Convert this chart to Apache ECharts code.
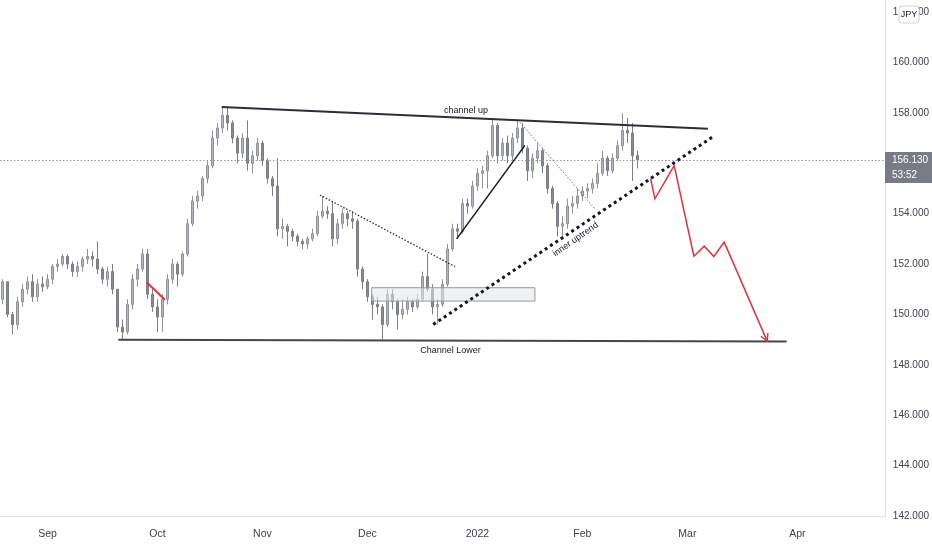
<!DOCTYPE html>
<html><head><meta charset="utf-8">
<script src="https://cdn.jsdelivr.net/npm/echarts@6/dist/echarts.min.js"></script>
<style>html,body{margin:0;padding:0;background:#fff}#c{width:932px;height:550px}</style>
</head><body><div id="c"></div>
<script>
// ---- price bars (one slot per bar) ----
const O=[150.6,151.3,150.0,149.6,150.5,151.0,151.3,150.7,151.2,151.1,151.4,151.9,152.0,152.3,152.0,151.7,151.9,152.2,152.3,152.2,
151.8,151.4,151.7,151.0,149.5,149.3,150.4,151.4,151.8,152.4,150.8,150.3,149.9,150.6,151.4,152.0,151.6,152.4,153.6,154.5,
154.7,155.4,155.9,157.0,157.4,157.9,157.6,157.0,156.4,157.0,156.0,156.3,156.8,156.1,155.4,155.1,153.4,153.5,153.3,153.1,
152.9,152.8,153.0,153.2,153.9,154.1,154.0,153.0,153.6,154.0,153.8,153.7,151.8,151.3,150.7,150.4,150.3,149.6,150.8,150.5,
150.0,150.2,150.5,150.3,150.6,151.5,151.0,150.3,150.4,151.2,152.6,153.4,153.3,154.4,154.3,155.1,155.6,155.7,156.3,157.5,
156.3,156.8,156.3,157.0,157.4,156.6,155.7,156.2,156.5,155.9,155.0,154.4,153.5,153.6,154.3,154.4,154.7,154.9,155.0,155.2,
155.6,156.2,155.7,156.2,156.7,157.3,157.2,156.3];
const C=[151.3,150.0,149.6,150.5,151.0,151.3,150.7,151.2,151.1,151.4,151.9,152.0,152.3,152.0,151.7,151.9,152.2,152.3,152.2,151.8,
151.4,151.7,151.0,149.5,149.3,150.4,151.4,151.8,152.4,150.8,150.3,149.9,150.6,151.4,152.0,151.6,152.4,153.6,154.5,154.7,
155.4,155.9,157.0,157.4,157.9,157.6,157.0,156.4,157.0,156.0,156.3,156.8,156.1,155.4,155.1,153.4,153.5,153.3,153.1,152.9,
152.8,153.0,153.2,153.9,154.1,154.0,153.0,153.6,154.0,153.8,153.7,151.8,151.3,150.7,150.4,150.3,149.6,150.8,150.5,150.0,
150.2,150.5,150.3,150.6,151.5,151.0,150.3,150.4,151.2,152.6,153.4,153.3,154.4,154.3,155.1,155.6,155.7,156.3,157.5,156.3,
156.8,156.3,157.0,157.4,156.6,155.7,156.2,156.5,155.9,155.0,154.4,153.5,153.6,154.3,154.4,154.7,154.9,155.0,155.2,155.6,
156.2,155.7,156.2,156.7,157.3,157.2,156.3,156.13];
const L=[150.4,149.9,149.2,149.4,150.3,150.8,150.5,150.5,150.9,151.0,151.2,151.7,151.9,151.8,151.5,151.5,151.7,152.0,151.9,151.6,
151.2,151.1,150.8,149.3,149.0,149.2,150.2,151.1,151.7,150.6,150.1,149.3,149.3,150.4,151.2,151.1,151.5,152.3,153.5,154.2,
154.5,155.2,155.8,156.7,157.2,157.3,156.8,156.0,156.2,155.7,155.6,156.1,155.9,155.2,154.7,153.1,153.0,152.7,152.9,152.7,
152.6,152.6,152.9,153.1,153.8,153.8,152.7,152.8,153.4,153.5,153.4,151.5,151.0,150.5,149.8,150.0,149.0,149.5,150.2,149.4,
149.8,150.0,150.1,150.2,150.5,150.9,150.0,149.6,150.3,151.1,152.5,153.0,153.2,154.0,154.2,154.9,155.0,155.0,156.2,156.0,
156.1,156.0,156.1,156.8,156.4,155.3,155.4,156.0,155.6,154.8,154.2,153.1,153.0,153.4,154.0,154.2,154.5,154.6,154.8,155.0,
155.5,155.5,155.6,156.1,156.5,156.8,155.3,155.8];
const H=[151.4,151.3,150.1,150.7,151.2,151.5,151.6,151.4,151.5,151.6,152.0,152.2,152.4,152.4,152.1,152.1,152.3,152.6,152.5,152.9,
151.9,151.9,152.0,151.0,149.8,150.6,151.6,152.0,152.6,152.6,151.0,150.6,150.8,151.6,152.2,152.1,152.5,153.8,154.7,154.9,
155.5,156.1,157.3,157.6,158.2,158.2,157.7,157.1,157.2,157.7,156.5,157.0,156.9,156.2,155.5,156.2,153.8,153.6,153.4,153.2,
153.0,153.1,153.4,154.1,154.7,154.3,154.5,153.8,154.2,154.1,154.1,153.8,151.9,151.4,150.8,150.7,150.4,151.0,151.0,150.6,
150.6,150.7,150.6,150.8,151.7,152.4,151.2,150.6,151.4,152.8,153.6,153.6,154.6,154.6,155.3,155.8,155.9,156.5,157.8,157.6,
157.0,157.1,157.2,157.7,157.6,156.7,156.4,156.8,156.6,156.0,155.1,154.5,153.9,154.6,154.7,155.0,155.1,155.2,155.4,156.0,
156.5,156.3,156.4,156.9,158.0,157.8,157.6,156.5];
const lastPrice = 156.13;
const lastPriceText = '156.130';
const countdownText = '53:52';

// ---- axis ticks ----
const NCAT = 177;
const monthTickIndex = [9,31,52,73,95,116,137,159];
const monthTickLabel = ['Sep','Oct','Nov','Dec','2022','Feb','Mar','Apr'];
const yMin = 142, yMax = 162.48, yStep = 2;

// ---- drawings (bar slot, price) ----
const channelUp   = [[43.84,158.23],[141.1,157.37]];
const channelLow  = [[23.16,149.0],[156.84,148.93]];
const innerUp     = [[86.16,149.60],[142.16,157.06]];
const novFall     = [[63.5,154.74],[90.5,151.90]];
const decRise     = [[90.84,153.0],[104.5,156.71]];
const janFall     = [[103.5,157.63],[118.5,154.19]];
const sepRed      = [[28.84,151.28],[32.5,150.58]];
const zoneBox     = [[73.84,151.06],[106.5,150.53]];
const projX = [129.64,130.5,134.36,138.3,140.36,142.3,144.36,152.96];
const projY = [155.39,154.59,155.91,152.31,152.71,152.30,152.87,148.94];
const noteText = ['channel up','Channel Lower','inner uptrend'];
const noteX = [92.7, 89.6, 114.64];
const noteY = [158.10, 148.57, 152.98];
const noteRot = [0, 0, 35];

const FONT = "'Liberation Sans','Roboto',sans-serif";
const RED = '#dc3540';
const chart = echarts.init(document.getElementById('c'));
const categories = Array.from({length: NCAT}, (_, i) => String(i));
const candleData = O.map((o, i) => [o, C[i], L[i], H[i]]);

function seg(pts, color, width, type, z) {
  return {type:'line', xAxisIndex:1, yAxisIndex:0, data:pts, symbol:'none', silent:true,
    lineStyle:{color:color, width:width, type:type, cap:'butt'}, z:z||5};
}

chart.setOption({
  animation:false,
  backgroundColor:'#ffffff',
  grid:{left:0, right:47, top:0, bottom:34, containLabel:false},
  xAxis:[{
    type:'category', data:categories, boundaryGap:true,
    axisLine:{show:true, onZero:false, lineStyle:{color:'#e0e3eb'}}, axisTick:{show:false},
    splitLine:{show:false},
    axisLabel:{
      interval:(i) => monthTickIndex.indexOf(i) >= 0,
      formatter:(v, i) => { const k = monthTickIndex.indexOf(Number(v)); return k >= 0 ? monthTickLabel[k] : ''; },
      color:'#3d414b', fontSize:10.5, fontFamily:FONT, margin:13
    }
  },{
    type:'value', min:-0.5, max:NCAT-0.5, show:false
  }],
  yAxis:[{
    type:'value', position:'right', min:yMin, max:yMax, interval:yStep, scale:true,
    axisLine:{show:true, onZero:false, lineStyle:{color:'#e0e3eb'}}, axisTick:{show:false},
    splitLine:{show:false},
    axisLabel:{
      formatter:(v) => Math.abs(v/yStep - Math.round(v/yStep)) < 1e-6 ? v.toFixed(3) : '',
      color:'#3d414b', fontSize:10, fontFamily:FONT, margin:8, align:'left'
    }
  }],
  series:[
    {
      type:'candlestick', data:candleData, barWidth:2, xAxisIndex:0, yAxisIndex:0,
      itemStyle:{color:'#b4b7bf', color0:'#868993', borderColor:'#8f929b', borderColor0:'#7b7e88', borderWidth:1},
      markLine:{silent:true, symbol:'none', label:{show:false},
        lineStyle:{color:'#9598a1', width:1, type:[1.5,2]},
        data:[{yAxis:lastPrice}]}
    },
    {
      type:'custom', xAxisIndex:1, yAxisIndex:0, silent:true, z:4,
      data:[[zoneBox[0][0], zoneBox[0][1]]],
      renderItem:(params, api) => {
        const a = api.coord(zoneBox[0]), b = api.coord(zoneBox[1]);
        return {type:'rect', shape:{x:a[0], y:a[1], width:b[0]-a[0], height:b[1]-a[1]},
          style:{fill:'rgba(228,229,233,0.55)', stroke:'#9598a1', lineWidth:1}};
      }
    },
    seg(channelUp, '#2a2e39', 2, 'solid'),
    seg(channelLow, '#434651', 2, 'solid'),
    seg(innerUp, '#131722', 3, [3,3.4]),
    seg(novFall, '#2a2e39', 1.3, [1.5,1.8]),
    seg(decRise, '#131722', 1.5, 'solid'),
    seg(janFall, '#6a6d78', 1, [1.5,1.8]),
    seg(sepRed, RED, 2, 'solid'),
    {
      type:'custom', xAxisIndex:1, yAxisIndex:0, silent:true, z:6,
      data:[[projX[0], projY[0]]],
      renderItem:(params, api) => {
        const pts = projX.map((x, i) => api.coord([x, projY[i]]));
        const n = pts.length, a = pts[n-1], b = pts[n-2];
        const ang = Math.atan2(a[1]-b[1], a[0]-b[0]);
        const len = 8, spr = 0.5;
        const h1 = [a[0]-len*Math.cos(ang-spr), a[1]-len*Math.sin(ang-spr)];
        const h2 = [a[0]-len*Math.cos(ang+spr), a[1]-len*Math.sin(ang+spr)];
        return {type:'group', children:[
          {type:'polyline', shape:{points:pts}, style:{stroke:RED, lineWidth:1.5, fill:null}},
          {type:'polyline', shape:{points:[h1, a, h2]}, style:{stroke:RED, lineWidth:1.5, fill:null}}
        ]};
      }
    },
    {
      type:'custom', xAxisIndex:1, yAxisIndex:0, silent:true, z:7,
      data:noteX.map((x, i) => [x, noteY[i]]),
      renderItem:(params, api) => {
        const i = params.dataIndex;
        const p = api.coord([api.value(0), api.value(1)]);
        return {type:'text', x:p[0], y:p[1], rotation:noteRot[i]*Math.PI/180,
          style:{text:noteText[i], fill:'#131722', font:'9px ' + FONT, align:'center', verticalAlign:'middle'}};
      }
    }
  ]
});

const py = chart.convertToPixel({yAxisIndex:0}, lastPrice);
chart.setOption({
  graphic:[
    {type:'rect', shape:{x:885, y:py-8, width:47, height:31}, style:{fill:'#787b86'}, z:100},
    {type:'text', x:892, y:py, style:{text:lastPriceText, fill:'#ffffff', font:'10px ' + FONT, align:'left', verticalAlign:'middle'}, z:101},
    {type:'text', x:892, y:py+15, style:{text:countdownText, fill:'#ffffff', font:'10px ' + FONT, align:'left', verticalAlign:'middle'}, z:101},
    {type:'rect', shape:{x:899, y:6, width:20, height:17, r:3}, style:{fill:'#ffffff', stroke:'#d1d4dc', lineWidth:1}, z:100},
    {type:'text', x:909, y:14.5, style:{text:'JPY', fill:'#131722', font:'9px ' + FONT, align:'center', verticalAlign:'middle'}, z:101}
  ]
});
</script>
</body></html>
